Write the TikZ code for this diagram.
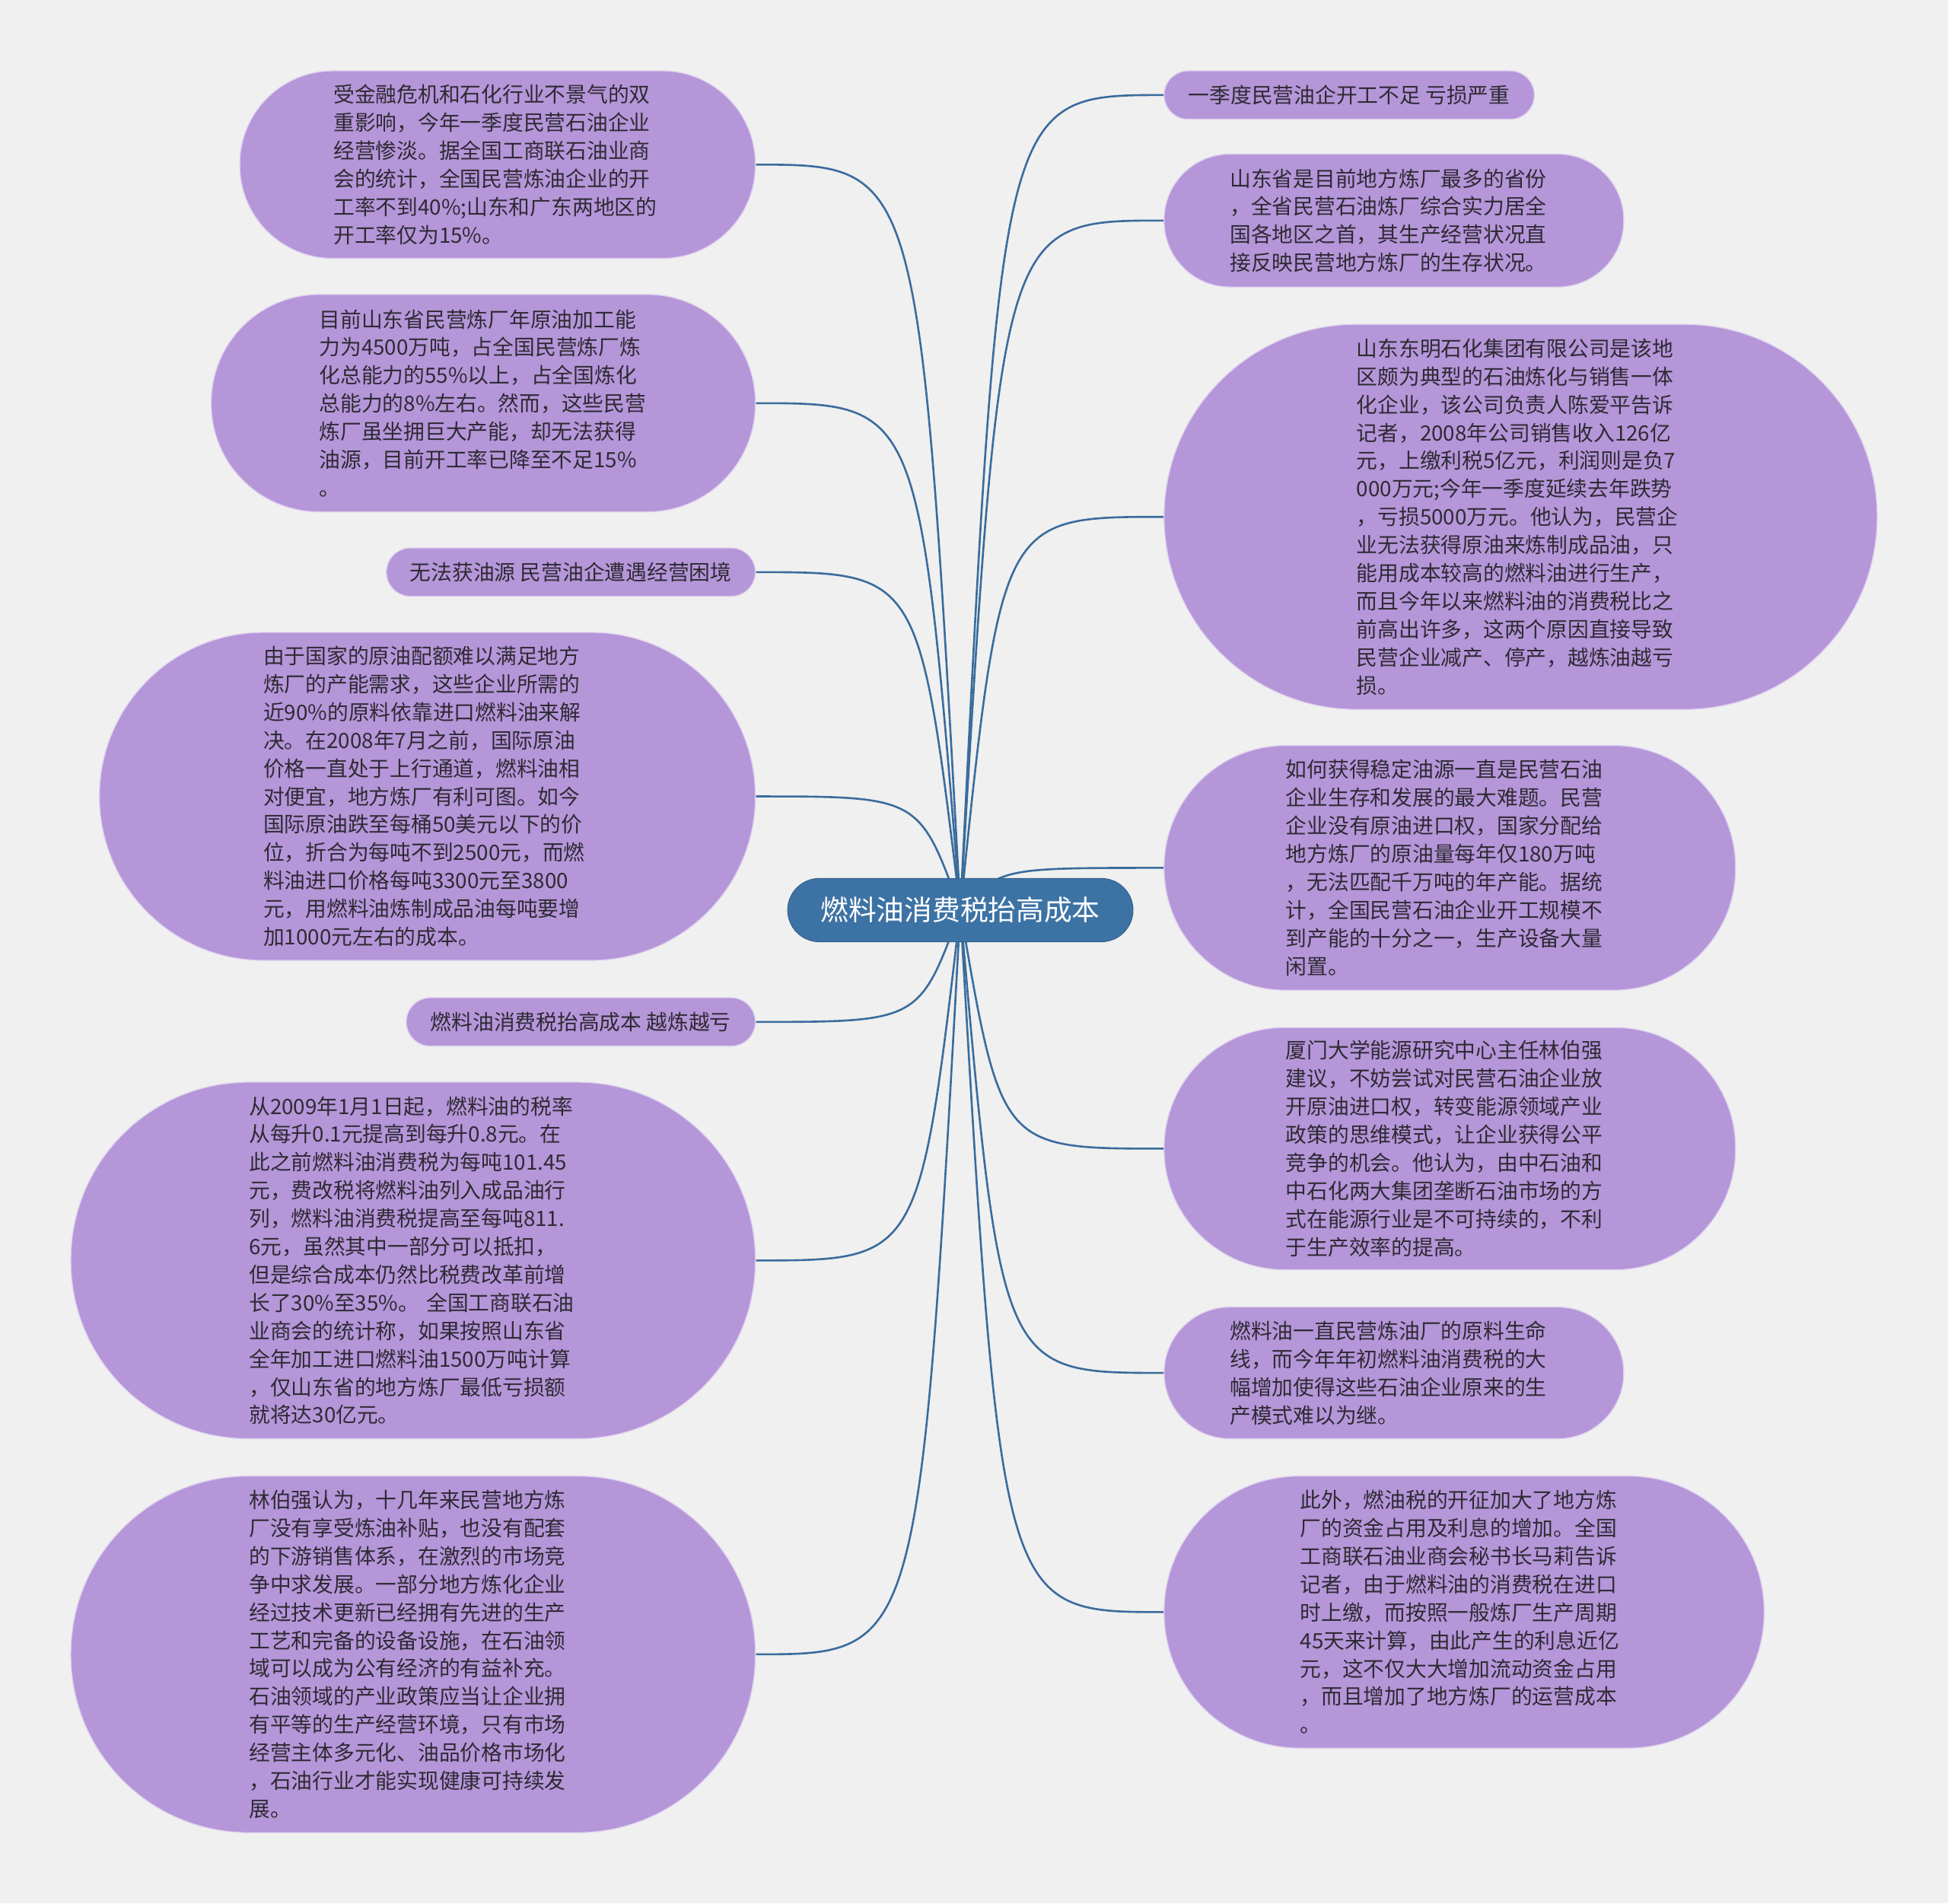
\documentclass[tikz,border=0pt]{standalone}
\usepackage{fontspec}
\setmainfont{Noto Sans CJK SC}
\usetikzlibrary{calc, backgrounds}
\definecolor{pageGray}{HTML}{F0F0F0}
\definecolor{leafPurple}{HTML}{B596D9}
\definecolor{leafText}{HTML}{2E2A33}
\definecolor{rootBlue}{HTML}{3D72A4}
\definecolor{linkBlue}{HTML}{3A6C9C}

\begin{document}
\begin{tikzpicture}[x=1pt, y=-1pt,
    rootNode/.style={draw=rootBlue!85!black, line width=0.6pt, rectangle, fill=rootBlue, text=white, align=center, font=\fontsize{22.5pt}{27pt}\selectfont},
    leaf/.style={draw=white!55!leafPurple, line width=0.8pt, rectangle, fill=leafPurple, text=leafText, align=left, text width=264pt, font=\fontsize{17pt}{22.6pt}\selectfont},
    tag/.style={draw=white!55!leafPurple, line width=0.8pt, rectangle, rounded corners=19.5pt, fill=leafPurple, text=leafText, align=center, minimum height=39pt, font=\fontsize{17pt}{22.6pt}\selectfont},
    link/.style={draw=linkBlue, line width=1.6pt},
]
\useasboundingbox (0,0) rectangle (1568,1532);
\node[rootNode, minimum width=278pt, minimum height=51pt, rounded corners=25.5pt] (root) at (773,732.5) {燃料油消费税抬高成本};
% left side
\node[leaf, minimum width=415pt, minimum height=151pt, rounded corners=75pt] (l1) at (400.5,132.5) {
    受金融危机和石化行业不景气的双\\
    重影响，今年一季度民营石油企业\\
    经营惨淡。据全国工商联石油业商\\
    会的统计，全国民营炼油企业的开\\
    工率不到40\%;山东和广东两地区的\\
    开工率仅为15\%。};
\node[leaf, minimum width=438pt, minimum height=175pt, rounded corners=87pt] (l2) at (389,324.5) {
    目前山东省民营炼厂年原油加工能\\
    力为4500万吨，占全国民营炼厂炼\\
    化总能力的55\%以上，占全国炼化\\
    总能力的8\%左右。然而，这些民营\\
    炼厂虽坐拥巨大产能，却无法获得\\
    油源，目前开工率已降至不足15\%\\
    。};
\node[tag, minimum width=297pt] (l3) at (459.5,460.5) {无法获油源 民营油企遭遇经营困境};
\node[leaf, minimum width=528pt, minimum height=264pt, rounded corners=132pt] (l4) at (344,641) {
    由于国家的原油配额难以满足地方\\
    炼厂的产能需求，这些企业所需的\\
    近90\%的原料依靠进口燃料油来解\\
    决。在2008年7月之前，国际原油\\
    价格一直处于上行通道，燃料油相\\
    对便宜，地方炼厂有利可图。如今\\
    国际原油跌至每桶50美元以下的价\\
    位，折合为每吨不到2500元，而燃\\
    料油进口价格每吨3300元至3800\\
    元，用燃料油炼制成品油每吨要增\\
    加1000元左右的成本。};
\node[tag, minimum width=281pt] (l5) at (467.5,822.5) {燃料油消费税抬高成本 越炼越亏};
\node[leaf, minimum width=551pt, minimum height=287pt, rounded corners=143pt] (l6) at (332.5,1014.5) {
    从2009年1月1日起，燃料油的税率\\
    从每升0.1元提高到每升0.8元。在\\
    此之前燃料油消费税为每吨101.45\\
    元，费改税将燃料油列入成品油行\\
    列，燃料油消费税提高至每吨811.\\
    6元，虽然其中一部分可以抵扣，\\
    但是综合成本仍然比税费改革前增\\
    长了30\%至35\%。 全国工商联石油\\
    业商会的统计称，如果按照山东省\\
    全年加工进口燃料油1500万吨计算\\
    ，仅山东省的地方炼厂最低亏损额\\
    就将达30亿元。};
\node[leaf, minimum width=551pt, minimum height=287pt, rounded corners=143pt] (l7) at (332.5,1331.5) {
    林伯强认为，十几年来民营地方炼\\
    厂没有享受炼油补贴，也没有配套\\
    的下游销售体系，在激烈的市场竞\\
    争中求发展。一部分地方炼化企业\\
    经过技术更新已经拥有先进的生产\\
    工艺和完备的设备设施，在石油领\\
    域可以成为公有经济的有益补充。\\
    石油领域的产业政策应当让企业拥\\
    有平等的生产经营环境，只有市场\\
    经营主体多元化、油品价格市场化\\
    ，石油行业才能实现健康可持续发\\
    展。};
% right side
\node[tag, minimum width=298pt] (r1) at (1086,76.5) {一季度民营油企开工不足 亏损严重};
\node[leaf, minimum width=370pt, minimum height=107pt, rounded corners=53pt] (r2) at (1122,177.5) {
    山东省是目前地方炼厂最多的省份\\
    ，全省民营石油炼厂综合实力居全\\
    国各地区之首，其生产经营状况直\\
    接反映民营地方炼厂的生存状况。};
\node[leaf, minimum width=574pt, minimum height=310pt, rounded corners=155pt] (r3) at (1224,416) {
    山东东明石化集团有限公司是该地\\
    区颇为典型的石油炼化与销售一体\\
    化企业，该公司负责人陈爱平告诉\\
    记者，2008年公司销售收入126亿\\
    元，上缴利税5亿元，利润则是负7\\
    000万元;今年一季度延续去年跌势\\
    ，亏损5000万元。他认为，民营企\\
    业无法获得原油来炼制成品油，只\\
    能用成本较高的燃料油进行生产，\\
    而且今年以来燃料油的消费税比之\\
    前高出许多，这两个原因直接导致\\
    民营企业减产、停产，越炼油越亏\\
    损。};
\node[leaf, minimum width=460pt, minimum height=197pt, rounded corners=98pt] (r4) at (1167,698.5) {
    如何获得稳定油源一直是民营石油\\
    企业生存和发展的最大难题。民营\\
    企业没有原油进口权，国家分配给\\
    地方炼厂的原油量每年仅180万吨\\
    ，无法匹配千万吨的年产能。据统\\
    计，全国民营石油企业开工规模不\\
    到产能的十分之一，生产设备大量\\
    闲置。};
\node[leaf, minimum width=460pt, minimum height=195pt, rounded corners=97pt] (r5) at (1167,924.5) {
    厦门大学能源研究中心主任林伯强\\
    建议，不妨尝试对民营石油企业放\\
    开原油进口权，转变能源领域产业\\
    政策的思维模式，让企业获得公平\\
    竞争的机会。他认为，由中石油和\\
    中石化两大集团垄断石油市场的方\\
    式在能源行业是不可持续的，不利\\
    于生产效率的提高。};
\node[leaf, minimum width=370pt, minimum height=106pt, rounded corners=53pt] (r6) at (1122,1105) {
    燃料油一直民营炼油厂的原料生命\\
    线，而今年年初燃料油消费税的大\\
    幅增加使得这些石油企业原来的生\\
    产模式难以为继。};
\node[leaf, minimum width=483pt, minimum height=219pt, rounded corners=109pt] (r7) at (1178.5,1297.5) {
    此外，燃油税的开征加大了地方炼\\
    厂的资金占用及利息的增加。全国\\
    工商联石油业商会秘书长马莉告诉\\
    记者，由于燃料油的消费税在进口\\
    时上缴，而按照一般炼厂生产周期\\
    45天来计算，由此产生的利息近亿\\
    元，这不仅大大增加流动资金占用\\
    ，而且增加了地方炼厂的运营成本\\
    。};
% connectors behind the nodes
\begin{scope}[on background layer]
    \fill[pageGray] (0,0) rectangle (1568,1532);
    \foreach \n in {l1,l2,l3,l4,l5,l6,l7}
        \draw[link] (root.center) .. controls ($(root.center |- \n.east)!0.2!(\n.east)$) .. (\n.east);
    \foreach \n in {r1,r2,r3,r4,r5,r6,r7}
        \draw[link] (root.center) .. controls ($(root.center |- \n.west)!0.2!(\n.west)$) .. (\n.west);
\end{scope}
\end{tikzpicture}
\end{document}
